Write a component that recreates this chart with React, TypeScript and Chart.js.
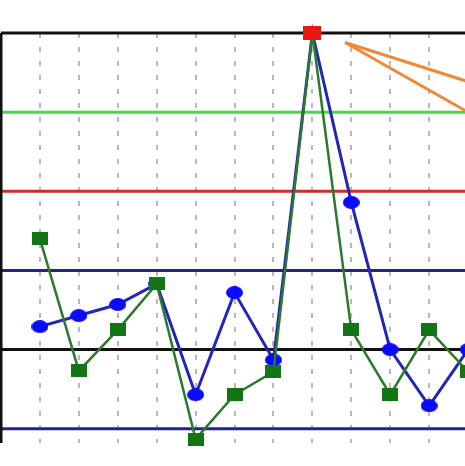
import React, { useEffect, useRef } from "react";
import { Chart, registerables } from "chart.js";

Chart.register(...registerables);

// sample numbers along the x axis
const samples = [1, 2, 3, 4, 5, 6, 7, 8, 9, 10, 11, 12];
// series values (standardised units)
const blueSeries = [0.29, 0.43, 0.57, 0.83, -0.57, 0.72, -0.13, 4.0, 1.86, 0.0, -0.71, 0.0];
const greenSeries = [1.4, -0.27, 0.25, 0.83, -1.13, -0.57, -0.28, 4.0, 0.25, -0.57, 0.25, -0.28];
// out-of-control sample
const alarmSample = [8];
const alarmValue = [4.0];
// control limits
const limitValues = [4, 3, 2, 1, 0, -1];
const limitColors = ["#111111", "#4fd34f", "#d42a2a", "#23238c", "#111111", "#23238c"];
// callout lines (x, y pairs in data units)
const calloutStart = [8.84, 3.88];
const calloutUpperEnd = [13, 3.23];
const calloutLowerEnd = [13, 2.72];

const X_MIN = 0;
const X_MAX = 13;
const Y_MIN = -1.18;
const Y_MAX = 4;

function makeMarker(w: number, h: number, color: string, shape: "ellipse" | "rect") {
  const c = document.createElement("canvas");
  c.width = w;
  c.height = h;
  const ctx = c.getContext("2d")!;
  ctx.fillStyle = color;
  if (shape === "ellipse") {
    ctx.beginPath();
    ctx.ellipse(w / 2, h / 2, w / 2, h / 2, 0, 0, Math.PI * 2);
    ctx.fill();
  } else {
    ctx.fillRect(0, 0, w, h);
  }
  return c;
}

export default function App() {
  const ref = useRef<HTMLCanvasElement | null>(null);

  useEffect(() => {
    if (!ref.current) return;
    const blueMarker = makeMarker(17, 13, "#0a0aff", "ellipse");
    const greenMarker = makeMarker(16, 13, "#137513", "rect");
    const redMarker = makeMarker(18, 14, "#ee1515", "rect");

    const limitSets = limitValues.map((v, i) => ({
      label: "limit" + i,
      data: [
        { x: X_MIN, y: v },
        { x: X_MAX, y: v },
      ],
      borderColor: limitColors[i],
      borderWidth: 3,
      pointRadius: 0,
      order: 10,
      clip: false as const,
    }));

    const chart = new Chart(ref.current, {
      type: "line",
      data: {
        datasets: [
          ...limitSets,
          {
            label: "leftBorder",
            data: [
              { x: X_MIN, y: Y_MIN },
              { x: X_MIN, y: Y_MAX },
            ],
            borderColor: "#111111",
            borderWidth: 3,
            pointRadius: 0,
            order: 9,
            clip: false as const,
          },
          {
            label: "blue",
            data: samples.map((s, i) => ({ x: s, y: blueSeries[i] })),
            borderColor: "#2525b5",
            borderWidth: 3,
            pointStyle: blueMarker,
            pointRadius: 8,
            order: 3,
            clip: false as const,
          },
          {
            label: "green",
            data: samples.map((s, i) => ({ x: s, y: greenSeries[i] })),
            borderColor: "#2b7a2b",
            borderWidth: 2.5,
            pointStyle: greenMarker,
            pointRadius: 8,
            order: 2,
            clip: false as const,
          },
          {
            label: "alarm",
            data: alarmSample.map((s, i) => ({ x: s, y: alarmValue[i] })),
            showLine: false,
            pointStyle: redMarker,
            pointRadius: 9,
            order: 0,
            clip: false as const,
          },
          {
            label: "calloutUpper",
            data: [
              { x: calloutStart[0], y: calloutStart[1] },
              { x: calloutUpperEnd[0], y: calloutUpperEnd[1] },
            ],
            borderColor: "#ee8a35",
            borderWidth: 3,
            pointRadius: 0,
            order: 1,
            clip: false as const,
          },
          {
            label: "calloutLower",
            data: [
              { x: calloutStart[0], y: calloutStart[1] },
              { x: calloutLowerEnd[0], y: calloutLowerEnd[1] },
            ],
            borderColor: "#ee8a35",
            borderWidth: 3,
            pointRadius: 0,
            order: 1,
            clip: false as const,
          },
        ],
      },
      options: {
        animation: false,
        responsive: false,
        devicePixelRatio: 1,
        layout: { autoPadding: false, padding: { left: 1, top: 33, right: 3, bottom: 23 } },
        plugins: { legend: { display: false }, tooltip: { enabled: false } },
        elements: { line: { tension: 0 } },
        scales: {
          x: {
            type: "linear",
            min: X_MIN,
            max: X_MAX,
            display: true,
            ticks: { display: false, stepSize: 1 },
            grid: { color: "#b8b8b8", lineWidth: 2, drawTicks: false },
            border: { display: false, dash: [5, 9] },
          },
          y: { type: "linear", min: Y_MIN, max: Y_MAX, display: false },
        },
      },
    });
    return () => chart.destroy();
  }, []);

  return (
    <div
      style={{
        position: "absolute",
        left: 0,
        top: 0,
        width: 465,
        height: 466,
        overflow: "hidden",
        background: "#ffffff",
      }}
    >
      <canvas ref={ref} width={510} height={466} style={{ display: "block" }} />
    </div>
  );
}
